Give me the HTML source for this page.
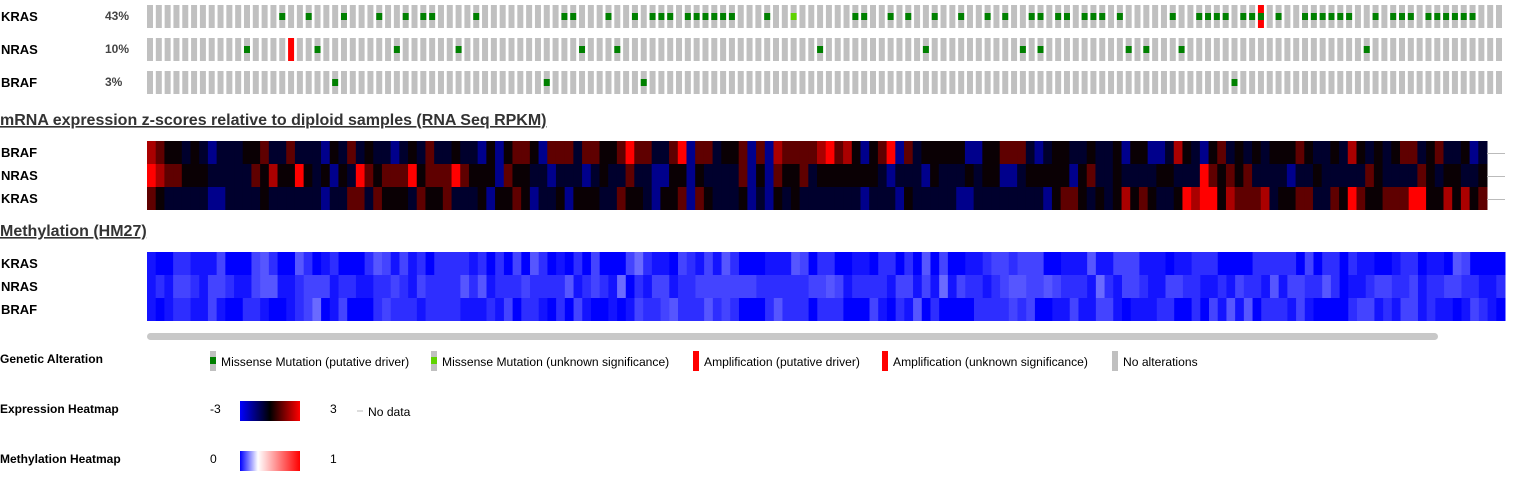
<!DOCTYPE html>
<html><head><meta charset="utf-8"><style>
html,body{margin:0;padding:0;background:#fff;width:1520px;height:491px;overflow:hidden;font-family:"Liberation Sans",sans-serif}
svg text{font-family:"Liberation Sans",sans-serif}
</style></head><body>
<svg id="chart" width="1520" height="491" xmlns="http://www.w3.org/2000/svg">
<g id="labels" font-weight="bold" fill="#000">
<text x="1" y="21" font-size="13">KRAS</text>
<text x="1" y="54" font-size="13">NRAS</text>
<text x="1" y="87" font-size="13">BRAF</text>
<text x="105" y="20" font-size="12" fill="#444">43%</text>
<text x="105" y="53" font-size="12" fill="#444">10%</text>
<text x="105" y="86" font-size="12" fill="#444">3%</text>
<text x="0" y="125" font-size="16" fill="#333" text-decoration="underline">mRNA expression z-scores relative to diploid samples (RNA Seq RPKM)</text>
<text x="1" y="157" font-size="13">BRAF</text>
<text x="1" y="180" font-size="13">NRAS</text>
<text x="1" y="203" font-size="13">KRAS</text>
<text x="0" y="236" font-size="16" fill="#333" text-decoration="underline">Methylation (HM27)</text>
<text x="1" y="268" font-size="13">KRAS</text>
<text x="1" y="291" font-size="13">NRAS</text>
<text x="1" y="314" font-size="13">BRAF</text>
</g>
<g id="mut"></g>
<g id="expr"></g>
<g id="meth"></g>
<rect x="147" y="333" width="1291" height="7" rx="3.5" fill="#c8c8c8"/>
<g font-size="12.1" fill="#000">
<text x="0" y="363" font-weight="bold" font-size="12">Genetic Alteration</text>
<g><rect x="210" y="351" width="6" height="20" fill="#c0c0c0"/><rect x="210" y="357" width="6" height="7" fill="#008000"/><text x="221" y="366">Missense Mutation (putative driver)</text></g>
<g><rect x="431" y="351" width="6" height="20" fill="#c0c0c0"/><rect x="431" y="357" width="6" height="7" fill="#5fd300"/><text x="442" y="366">Missense Mutation (unknown significance)</text></g>
<g><rect x="693" y="351" width="6" height="20" fill="#ff0000"/><text x="704" y="366">Amplification (putative driver)</text></g>
<g><rect x="882" y="351" width="6" height="20" fill="#ff0000"/><text x="893" y="366">Amplification (unknown significance)</text></g>
<g><rect x="1112" y="351" width="6" height="20" fill="#c0c0c0"/><text x="1123" y="366">No alterations</text></g>
<text x="0" y="413" font-weight="bold" font-size="12">Expression Heatmap</text>
<defs>
<linearGradient id="ge"><stop offset="0" stop-color="#0000ff"/><stop offset="0.5" stop-color="#000"/><stop offset="1" stop-color="#ff0000"/></linearGradient>
<linearGradient id="gm"><stop offset="0" stop-color="#0000ff"/><stop offset="0.3" stop-color="#ffffff"/><stop offset="1" stop-color="#ff0000"/></linearGradient>
</defs>
<text x="210" y="413">-3</text>
<rect x="240" y="401" width="60" height="20" fill="url(#ge)"/>
<text x="330" y="413">3</text>
<rect x="357" y="410" width="6" height="2" fill="#ddd"/>
<text x="368" y="416">No data</text>
<text x="0" y="463" font-weight="bold" font-size="12">Methylation Heatmap</text>
<text x="210" y="463">0</text>
<rect x="240" y="451" width="60" height="20" fill="url(#gm)"/>
<text x="330" y="463">1</text>
</g>
</svg>
<script>
var NS="http://www.w3.org/2000/svg";
var sampleCount=154;
var krasMissense=[15,18,22,26,29,31,32,37,47,48,52,55,57,58,59,61,62,63,64,65,66,70,80,81,84,86,89,92,95,97,100,101,103,104,106,107,108,110,116,119,120,121,122,124,125,126,128,131,132,133,134,135,136,139,141,142,143,145,146,147,148,149,150];
var krasMissenseUnknown=[73];
var krasAmp=[126];
var nrasMissense=[11,19,28,35,49,53,76,88,99,101,111,113,117,138];
var nrasAmp=[16];
var brafMissense=[21,45,56,123];
var exprBraf="5433232122233422422213242322123242232213134431444244"+"3346442246144233414154444564531346142333331133444"+"2"+"1233223223133112532134232323334322325323234423422312";
var exprNras="654433322222435336323132643444634446433314332212221232"+"2422113313222241314334233333332122213222323311233333"+"1342232222332226434342222122322222432222432332232212";
var exprKras="432222211222232222221224424333243342223133431223133"+"322433213341432223121323222222212221322222112222222"+"2"+"1344323235343223656635444523344224364334446633535341";
var methKras="100221113000342004201200024313120222212020304201020300035211632131420001114302200"+"110220204030011233233300111411333111011222000022222030220211001220110430000230212001"+"";
var methNras="12133213321134411233312211223213222242412223222241232150213312233333332222223343122"+"221331315132212344334322215213321133221121322141332242011233223122332211225111";
var methBraf="10122113100221001235013000232221222211121302210203100101322342224232000242220222"+"00031021402000022223230011311331011122002031414022213100002331213312110132101";
function xPos(i){return 147+i*(1349/(sampleCount-1));}
var mut=document.getElementById('mut');
function rect(g,x,y,w,h,fill){var r=document.createElementNS(NS,'rect');r.setAttribute('x',x);r.setAttribute('y',y);r.setAttribute('width',w);r.setAttribute('height',h);r.setAttribute('fill',fill);g.appendChild(r);return r;}
var tracks=[{name:'kras',top:5,mis:krasMissense,unk:krasMissenseUnknown,amp:krasAmp},{name:'nras',top:38,mis:nrasMissense,unk:[],amp:nrasAmp},{name:'braf',top:71,mis:brafMissense,unk:[],amp:[]}];
tracks.forEach(function(t){
  for(var i=0;i<sampleCount;i++){
    var c=rect(mut,xPos(i),t.top,6,23,t.amp.indexOf(i)>=0?'#ff0000':'#c0c0c0');
    
    
    var mk=null;
    if(t.mis.indexOf(i)>=0) mk=rect(mut,xPos(i),t.top+8,6,7,'#008000');
    else if(t.unk.indexOf(i)>=0) mk=rect(mut,xPos(i),t.top+8,6,7,'#5fd300');
    if(mk){
      
      
    }
  }
});
var expr=document.getElementById('expr');
var exprLevels=[190,140,45,0,95,170,255];
function exprColor(code){var v=exprLevels[code];return code<3?'rgb(0,0,'+v+')':(code==3?'rgb(10,0,4)':'rgb('+v+',0,0)');}
var exprW=1340/sampleCount;
[exprBraf,exprNras,exprKras].forEach(function(s,r){
  for(var i=0;i<sampleCount;i++){
    var code=parseInt(s.charAt(Math.min(i,s.length-1)),10);
    var c=rect(expr,147+i*exprW,141+r*23,exprW+0.5,23,exprColor(code));
    
    
  }
});
[153,176,199].forEach(function(y){
  var l=rect(expr,1487,y,18,1,'#bbb');
  
  
});
var meth=document.getElementById('meth');
var methN=156, methW=1358/methN;
function methColor(code){var v=[0,20,46,68,86,106][code]||0;return 'rgb('+v+','+v+',255)';}
[methKras,methNras,methBraf].forEach(function(s,r){
  for(var i=0;i<methN;i++){
    var code=parseInt(s.charAt(Math.min(i,s.length-1)),10);
    var c=rect(meth,147+i*methW,252+r*23,methW+0.5,23,methColor(code));
    
    
  }
});
</script>
</body></html>
